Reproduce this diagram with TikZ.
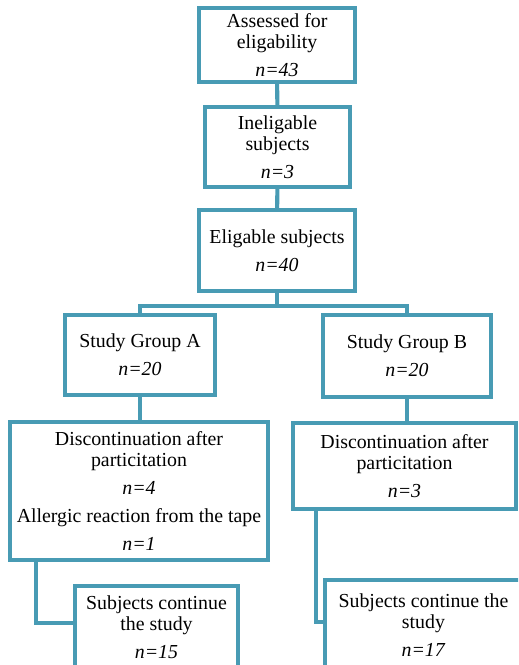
\documentclass[tikz,border=0pt]{standalone}
\usepackage{fontspec}
\setmainfont{Liberation Serif}
\definecolor{boxteal}{RGB}{72,155,180}

\begin{document}
\begin{tikzpicture}[x=0.02cm, y=-0.02cm,
    box/.style={draw=boxteal, line width=2.3pt, rectangle, inner sep=0pt,
        align=center, font=\fontsize{11.3}{11.9}\selectfont},
    link/.style={draw=boxteal, line width=2.3pt}]
    \clip (0,0) rectangle (518,665);
    % top column
    \node[box, minimum width=3.12cm, minimum height=1.48cm] (assess) at (277,45)
        {Assessed for\\eligability\\[4pt]\textit{n=43}};
    \node[box, minimum width=2.90cm, minimum height=1.60cm] (inelig) at (277.5,147)
        {Ineligable\\subjects\\[4pt]\textit{n=3}};
    \node[box, minimum width=3.12cm, minimum height=1.62cm] (elig) at (277,250.5)
        {Eligable subjects\\[4pt]\textit{n=40}};
    % two groups
    \node[box, minimum width=3.00cm, minimum height=1.60cm] (grpa) at (140,355)
        {Study Group A\\[4pt]\textit{n=20}};
    \node[box, minimum width=3.36cm, minimum height=1.64cm] (grpb) at (407,356)
        {Study Group B\\[4pt]\textit{n=20}};
    \node[box, minimum width=5.16cm, minimum height=2.76cm] (discA) at (139,491)
        {Discontinuation after\\particitation\\[4pt]\textit{n=4}\\[4pt]%
         Allergic reaction from the tape\\[4pt]\textit{n=1}};
    \node[box, minimum width=4.46cm, minimum height=1.72cm] (discB) at (404.5,466)
        {Discontinuation after\\particitation\\[4pt]\textit{n=3}};
    \node[box, minimum width=3.26cm, minimum height=1.64cm] (contA) at (156.5,627)
        {Subjects continue\\the study\\[4pt]\textit{n=15}};
    \node[box, minimum width=3.94cm, minimum height=1.80cm] (contB) at (423.5,625)
        {Subjects continue the\\study\\[4pt]\textit{n=17}};
    % connectors
    \draw[link] (assess) -- (inelig);
    \draw[link] (inelig) -- (elig);
    \draw[link] (elig.south) -- ++(0,13) coordinate (split) -| (grpa.north);
    \draw[link] (split) -| (grpb.north);
    \draw[link] (grpa.south) -- (grpa.south |- discA.north);
    \draw[link] (grpb.south) -- (grpb.south |- discB.north);
    \draw[link] ([xshift=0.56cm]discA.south west) |- ([yshift=0.08cm]contA.west);
    \draw[link] ([xshift=0.5cm]discB.south west) |- ([yshift=0.06cm]contB.west);
\end{tikzpicture}
\end{document}
